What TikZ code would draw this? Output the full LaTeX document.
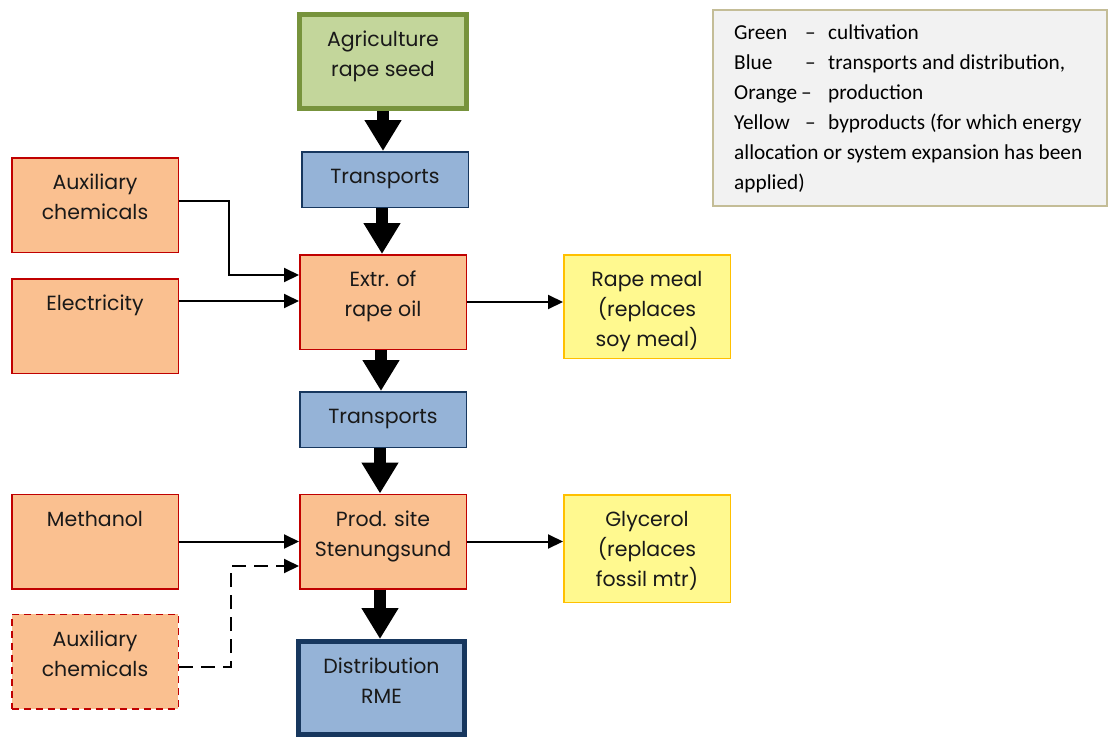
\documentclass[tikz,border=0pt]{standalone}
\usepackage{fontspec}
\usetikzlibrary{arrows.meta,calc}
\newfontfamily\boxfont{Poppins}
\newfontfamily\legfont{Carlito}
\definecolor{grnfill}{HTML}{C3D69B}
\definecolor{grnline}{HTML}{77933C}
\definecolor{bluefill}{HTML}{95B3D7}
\definecolor{blueline}{HTML}{17375E}
\definecolor{orgfill}{HTML}{FAC090}
\definecolor{redline}{HTML}{C00000}
\definecolor{yelfill}{HTML}{FFF98F}
\definecolor{yelline}{HTML}{FFC000}
\definecolor{legfill}{HTML}{F2F2F2}
\definecolor{legline}{HTML}{C4BD97}
\newcommand\bt[3]{\parbox[c][#2][t]{#1}{\centering\rule{0pt}{32pt}#3}}
\tikzset{
  base/.style={inner sep=0pt, font=\boxfont\fontsize{20.5}{30}\selectfont, text=black!90},
  grnbox/.style={base, draw=grnline, fill=grnfill, line width=5pt},
  trbox/.style={base, draw=blueline, fill=bluefill, line width=1.5pt, minimum width=166.5pt, minimum height=55.5pt},
  distbox/.style={base, draw=blueline, fill=bluefill, line width=5pt},
  orgbox/.style={base, draw=redline, fill=orgfill, line width=1.5pt},
  yelbox/.style={base, draw=yelline, fill=yelfill, line width=1.5pt},
  bigarrow/.style={line width=12pt, -{Triangle[width=35pt,length=31pt]}},
  thinarrow/.style={line width=2pt, -{Triangle[width=14pt,length=15pt]}},
  legtext/.style={inner sep=0pt, anchor=base west, font=\legfont\fontsize{21.3}{30}\selectfont}
}
\begin{document}
\begin{tikzpicture}[x=1pt,y=-1pt]
\useasboundingbox (0,0) rectangle (1108,736);
% legend
\node[draw=legline, fill=legfill, line width=2pt, minimum width=394pt, minimum height=196pt, inner sep=0pt] (legend) at (910,107.5) {};
\node[legtext] (l1a) at (734,39.5) {Green};
\node[legtext] (l1b) at (805,39.5) {–};
\node[legtext] (l1c) at (828,39.5) {cultivation};
\node[legtext] (l2a) at (734,69.5) {Blue};
\node[legtext] (l2b) at (805,69.5) {–};
\node[legtext] (l2c) at (828,69.5) {transports and distribution,};
\node[legtext] (l3a) at (734,99.5) {Orange};
\node[legtext] (l3b) at (801,99.5) {–};
\node[legtext] (l3c) at (828,99.5) {production};
\node[legtext] (l4a) at (734,129.5) {Yellow};
\node[legtext] (l4b) at (805,129.5) {–};
\node[legtext] (l4c) at (828,129.5) {byproducts (for which energy};
\node[legtext] (l5) at (734,159.5) {allocation or system expansion has been};
\node[legtext] (l6) at (734,189.5) {applied)};
% boxes
\node[grnbox] (agri) at (383,61.5) {\bt{167pt}{94pt}{Agriculture\\rape seed}};
\node[trbox] (tr1) at (385,179.5) {Transports};
\node[orgbox] (aux1) at (95,205) {\bt{166.5pt}{94.5pt}{Auxiliary\\chemicals}};
\node[orgbox] (elec) at (95,326) {\bt{166.5pt}{94.5pt}{Electricity}};
\node[orgbox] (extr) at (383,302) {\bt{166.5pt}{94.5pt}{Extr. of\\rape oil}};
\node[yelbox] (meal) at (647,306.5) {\bt{166.5pt}{103.5pt}{Rape meal\\(replaces\\soy meal)}};
\node[trbox] (tr2) at (383,419.5) {Transports};
\node[orgbox] (meth) at (95,541.5) {\bt{166.5pt}{94.5pt}{Methanol}};
\node[orgbox] (prod) at (383,541.5) {\bt{166.5pt}{94.5pt}{Prod. site\\Stenungsund}};
\node[yelbox] (glyc) at (647,548.5) {\bt{166.5pt}{107.5pt}{Glycerol\\(replaces\\fossil mtr)}};
\node[orgbox, dash pattern=on 7pt off 5pt] (aux2) at (95,661.5) {\bt{166.5pt}{94.5pt}{Auxiliary\\chemicals}};
\node[distbox] (dist) at (381.5,688) {\bt{166pt}{93pt}{Distribution\\RME}};
% big arrows
\draw[bigarrow] (agri.south) -- (agri.south |- tr1.north);
\draw[bigarrow] ([xshift=-3pt]tr1.south) -- ([xshift=-3pt]tr1.south |- extr.north);
\draw[bigarrow] ([xshift=-2pt]extr.south) -- ([xshift=-2pt]extr.south |- tr2.north);
\draw[bigarrow] ([xshift=-3pt]tr2.south) -- ([xshift=-3pt]tr2.south |- prod.north);
\draw[bigarrow] ([xshift=-3pt]prod.south) -- ([xshift=-3pt]prod.south |- dist.north);
% thin connectors
\coordinate (k1) at (229,275);
\coordinate (k2) at (231,566);
\draw[thinarrow] ([yshift=4pt]aux1.east) -| (k1) -- ([yshift=27pt]extr.west);
\draw[thinarrow] ([yshift=25pt]elec.east) -- ([yshift=25pt]elec.east -| extr.west);
\draw[thinarrow] (extr.east) -- (extr.east -| meal.west);
\draw[thinarrow] (meth.east) -- (meth.east -| prod.west);
\draw[thinarrow] (prod.east) -- (prod.east -| glyc.west);
\draw[thinarrow, dash pattern=on 14pt off 8pt] ([yshift=-5.5pt]aux2.east) -| (k2) -- ([yshift=-24.5pt]prod.west);
\end{tikzpicture}
\end{document}
